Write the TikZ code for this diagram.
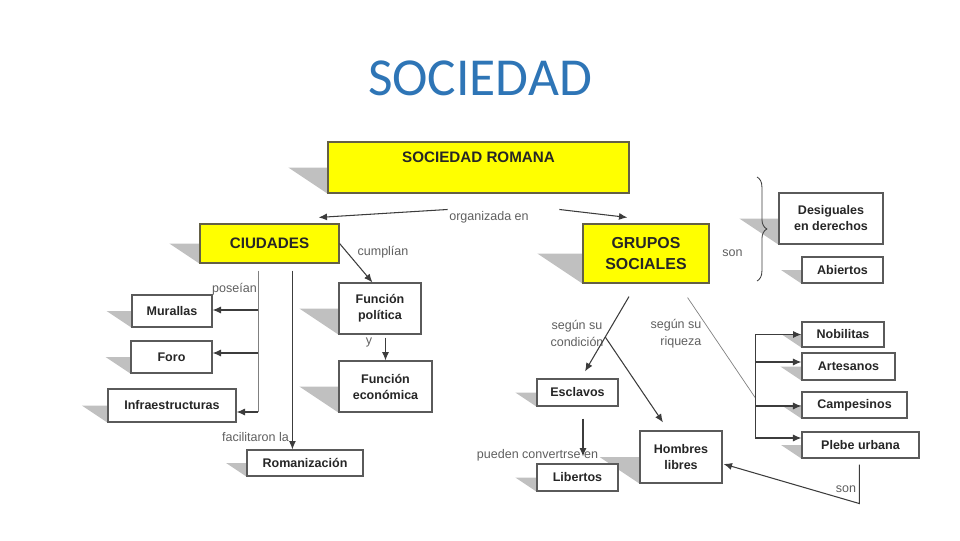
\documentclass[tikz,border=0pt]{standalone}
\usepackage{fontspec}
\setmainfont{Liberation Sans}
\newfontfamily\titlefont{Carlito}
\usetikzlibrary{arrows.meta,calc,backgrounds,decorations.pathreplacing}
\definecolor{titleblue}{RGB}{46,117,182}
\definecolor{conceptyellow}{RGB}{255,255,0}
\definecolor{shadowgray}{RGB}{192,192,192}
\definecolor{boxgray}{RGB}{90,90,90}
\definecolor{linegray}{RGB}{60,60,60}
\definecolor{wordgray}{RGB}{95,95,95}

\begin{document}
\begin{tikzpicture}[x=0.025cm, y=-0.025cm,
  boxsize/.style 2 args={minimum width=#1*0.7113pt, minimum height=#2*0.7113pt},
  conceptbox/.style={draw=boxgray, line width=0.8pt, fill=white, inner sep=0pt, align=center,
    text=black!85, font=\fontsize{8.9}{11.4}\selectfont\bfseries},
  mainbox/.style={conceptbox, draw=black!70!yellow, fill=conceptyellow,
    font=\fontsize{10.8}{15}\selectfont\bfseries},
  linkword/.style={inner sep=1pt, text=wordgray, align=center, font=\fontsize{8.9}{12}\selectfont},
  link/.style={draw=linegray, line width=0.75pt, -{Latex[length=6pt,width=5pt]}},
  thinlink/.style={draw=gray, line width=0.5pt}]
  \useasboundingbox (0,0) rectangle (960,540);

  \node[font=\titlefont\fontsize{38}{40}\selectfont, text=titleblue] (title) at (480,78) {SOCIEDAD};

  % concepts
  \node[mainbox, boxsize={301}{51}] (rom) at (478.5,167.5) {SOCIEDAD ROMANA\\~};
  \node[mainbox, boxsize={139}{39}] (ciu) at (269.5,243.5) {CIUDADES};
  \node[mainbox, boxsize={126}{59}, font=\fontsize{11.3}{15}\selectfont\bfseries] (gru) at (646,253.5) {GRUPOS\\SOCIALES};
  \node[conceptbox, boxsize={80}{32}] (mur) at (172,311) {Murallas};
  \node[conceptbox, boxsize={81}{32}] (foro) at (171.5,357) {Foro};
  \node[conceptbox, boxsize={128}{33}] (inf) at (172,405.5) {Infraestructuras};
  \node[conceptbox, boxsize={82}{51}] (fpol) at (380,308.5) {Función\\política};
  \node[conceptbox, boxsize={93}{51}] (feco) at (385.5,386.5) {Función\\económica};
  \node[conceptbox, boxsize={116}{26}] (roma) at (305,463) {Romanización};
  \node[conceptbox, boxsize={104}{51}] (des) at (831,218.5) {Desiguales\\en derechos};
  \node[conceptbox, boxsize={81}{26}] (abi) at (842.5,270) {Abiertos};
  \node[conceptbox, boxsize={82}{25}] (nob) at (843,334.5) {Nobilitas};
  \node[conceptbox, boxsize={93}{27}] (art) at (848.5,366.5) {Artesanos};
  \node[conceptbox, boxsize={105}{26}] (cam) at (854.5,405) {Campesinos};
  \node[conceptbox, boxsize={117}{26}] (ple) at (860.5,445) {Plebe urbana};
  \node[conceptbox, boxsize={81}{27}] (esc) at (577.5,392.5) {Esclavos};
  \node[conceptbox, boxsize={81}{27}] (lib) at (577.5,477.5) {Libertos};
  \node[conceptbox, boxsize={82}{52}] (hom) at (681,457) {Hombres\\libres};

  % linking words
  \node[linkword] (org) at (489,217) {organizada en};
  \node[linkword] (cump) at (383,252) {cumplían};
  \node[linkword] (pos) at (234.5,289) {poseían};
  \node[linkword] (fac) at (255.5,437) {facilitaron la};
  \node[linkword] (yy) at (369,342) {y};
  \node[linkword] (son1) at (732.5,253) {son};
  \node[linkword] (cond) at (577,333.5) {según su\\condición};
  \node[linkword, align=right] (riq) at (676,333.5) {según su\\riqueza};
  \node[linkword] (conv) at (537.5,455) {pueden convertrse en};
  \node[linkword] (son2) at (846,489) {son};

  % connectors
  \draw[link] (org.north west) -- ($(ciu.north east)+(-21,-6)$);
  \draw[link] ($(org.north east)+(29,0)$) -- ($(gru.north west)+(45,-6)$);
  \draw[link] (ciu.east) -- ($(fpol.north west)+(34,0)$);
  \draw[link] ($(fpol.south -| feco.north)+(0,3)$) -- (feco.north);
  \draw[link] ($(ciu.south west)+(93,7)$) coordinate (fr) -- (fr |- roma.north);
  \draw[thinlink] ($(ciu.south west)+(59,7)$) coordinate (ps) -- ($(ps |- inf.east)+(0,6.5)$);
  \foreach \b/\d in {mur/-1,foro/-4,inf/6.5}
    \draw[link] ($(ps |- \b.east)+(0,\d)$) -- ($(\b.east)+(0,\d)$);
  \draw[link] ($(gru.south)+(-17,13)$) -- coordinate[pos=0.54] (br) ($(esc.north)+(7.5,-7)$);
  \draw[link] (br) -- ($(hom.north)+(-18,-8)$);
  \draw[thinlink] ($(gru.south east)+(-22,14)$) -- ($(nob.west)+(-46,63.5)$);
  \draw[link, -] ($(nob.west)+(-46,0)$) coordinate (rq) -- ($(rq |- ple.west)+(0,-7)$);
  \foreach \b/\d in {nob/0,art/-4.5,cam/1,ple/-7}
    \draw[link] ($(rq |- \b.west)+(0,\d)$) -- ($(\b.west)+(0,\d)$);
  \draw[link] ($(esc.south)+(5.5,12)$) coordinate (ec) -- ($(ec |- lib.north)+(0,-7)$);
  \draw[link] ($(ple.south west)+(58,6)$) -- ++(0,39) -- ($(hom.east)+(1,7)$);
  \draw[linegray, line width=0.6pt, decorate, decoration={brace, amplitude=7pt}] (757,177) -- (757,281);

  % shadows
  \begin{scope}[on background layer]
    \foreach \b in {rom,ciu,gru,mur,foro,inf,fpol,feco,roma,des,abi,nob,art,cam,ple,esc,lib,hom}
      \fill[shadowgray] let \p1=($(\b.north)-(\b.south)$) in
        ([xshift=-0.75*\y1]\b.west) -- (\b.west) -- (\b.south west) -- cycle;
  \end{scope}
\end{tikzpicture}
\end{document}
